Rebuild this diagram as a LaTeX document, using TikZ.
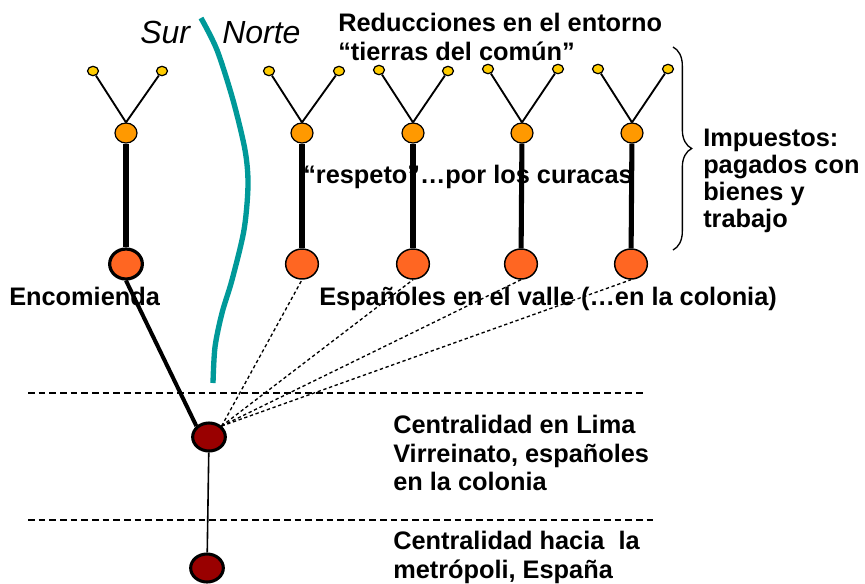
\documentclass[tikz,border=0pt]{standalone}
\usepackage{fontspec}
\setmainfont{Liberation Sans}
\usepackage{xcolor}
\usepackage{tikz}
\usetikzlibrary{
  shapes.geometric,
  decorations.pathreplacing
}
\definecolor{yelFill}{HTML}{FFCC00}
\definecolor{midFill}{HTML}{FF9900}
\definecolor{bigFill}{HTML}{FF6622}
\definecolor{redFill}{HTML}{990000}
\definecolor{tealLine}{HTML}{009999}
\tikzset{
  base/.style={
    ellipse, draw=black, inner sep=0pt
  },
  yel nd/.style={
    base, fill=yelFill, line width=0.9pt,
    minimum width=8.2pt, minimum height=7pt
  },
  mid nd/.style={
    base, fill=midFill, line width=0.9pt,
    minimum width=16.5pt, minimum height=15pt
  },
  big nd/.style={
    base, fill=bigFill, line width=1.1pt,
    minimum width=24.5pt, minimum height=22.5pt
  },
  red nd/.style={
    base, fill=redFill, line width=2.3pt,
    minimum width=24.5pt, minimum height=21pt
  },
  lbl/.style={inner sep=0pt, align=left,
    font=\fontsize{19}{21.5}\selectfont\bfseries},
  side/.style={font=\fontsize{24}{26}\selectfont\itshape, inner sep=0pt}
}

\begin{document}
\begin{tikzpicture}[
    x=0.75pt, y=-0.75pt,
    branch/.style={line width=1.4pt},
    trunk/.style={line width=3.8pt},
    link/.style={line width=3pt},
    tenue/.style={line width=1pt, dash pattern=on 2.5pt off 2pt},
    sep/.style={line width=1pt, dash pattern=on 5pt off 3pt},
    ]
    \useasboundingbox (0,0) rectangle (865,583);

    % north / south divide
    \node[side, anchor=base west] (sur) at (140,43) {Sur};
    \node[side, anchor=base west] (norte) at (222,43) {Norte};
    \draw[tealLine, line width=4pt] plot[smooth] coordinates
      {(201,18) (217,50) (233,100) (245,150) (248,185) (244,230)
       (232,280) (222,313) (215,347) (213,383)};

    % small yellow nodes
    \node[yel nd] (y1a) at (93,71) {};
    \node[yel nd] (y1b) at (162,71) {};
    \node[yel nd] (y2a) at (269,71) {};
    \node[yel nd] (y2b) at (339,71) {};
    \node[yel nd] (y3a) at (379,70) {};
    \node[yel nd] (y3b) at (448,71) {};
    \node[yel nd] (y4a) at (488,69) {};
    \node[yel nd] (y4b) at (558,69) {};
    \node[yel nd] (y5a) at (598,69) {};
    \node[yel nd] (y5b) at (668,69) {};

    % middle orange nodes
    \node[mid nd] (m1) at (126,133) {};
    \node[mid nd] (m2) at (302,133) {};
    \node[mid nd] (m3) at (413,133) {};
    \node[mid nd] (m4) at (522,133) {};
    \node[mid nd] (m5) at (632,133) {};

    % big nodes
    \node[big nd, line width=2.4pt] (b1) at (126,264) {};
    \node[big nd] (b2) at (302,264) {};
    \node[big nd] (b3) at (413,264) {};
    \node[big nd] (b4) at (521,264) {};
    \node[big nd] (b5) at (631,264) {};

    \draw[branch] (y1a) -- (m1.north);
    \draw[branch] (y1b) -- (m1.north);
    \draw[branch] (y2a) -- (m2.north);
    \draw[branch] (y2b) -- (m2.north);
    \draw[branch] (y3a) -- (m3.north);
    \draw[branch] (y3b) -- (m3.north);
    \draw[branch] (y4a) -- (m4.north);
    \draw[branch] (y4b) -- (m4.north);
    \draw[branch] (y5a) -- (m5.north);
    \draw[branch] (y5b) -- (m5.north);

    \draw[trunk] (m1) -- (b1);
    \draw[trunk] (m2) -- (b2);
    \draw[trunk] (m3) -- (b3);
    \draw[trunk] (m4) -- (b4);
    \draw[trunk] (m5) -- (b5);

    % centres
    \node[red nd] (lima) at (209,437) {};
    \node[red nd] (espana) at (207,568) {};

    \draw[link] (b1.south) -- (lima.north west);
    \draw[tenue] (lima.north east) -- (b2.south);
    \draw[tenue] (lima.north east) -- (b3.south);
    \draw[tenue] (lima.north east) -- (b4.south);
    \draw[tenue] (lima.north east) -- (b5.south);
    \draw[line width=1.2pt] (lima) -- (espana);

    \draw[sep] (28,393) -- (644,393);
    \draw[sep] (28,520) -- (656,520);

    \draw[line width=1pt, decorate, decoration={brace, amplitude=14pt}]
      (673,47) -- (673,250);

    % labels
    \node[lbl, anchor=north west] (reduc) at (338,13)
      {Reducciones en el entorno\\“tierras del común”};
    \node[lbl, anchor=base west] (respeto) at (303,183)
      {“respeto”…por los curacas};
    \node[lbl, anchor=north west, font=\fontsize{19}{20.3}\selectfont\bfseries]
      (impuestos) at (703,129)
      {Impuestos:\\pagados con\\bienes y\\trabajo};
    \node[lbl, anchor=base west] (encom) at (9,305) {Encomienda};
    \node[lbl, anchor=base west] (valle) at (319,305)
      {Españoles en el valle (…en la colonia)};
    \node[lbl, anchor=north west] (centLima) at (393,415)
      {Centralidad en Lima\\Virreinato, españoles\\en la colonia};
    \node[lbl, anchor=north west] (centEsp) at (393,531)
      {Centralidad hacia~ la\\metrópoli, España};

  \end{tikzpicture}
\end{document}
